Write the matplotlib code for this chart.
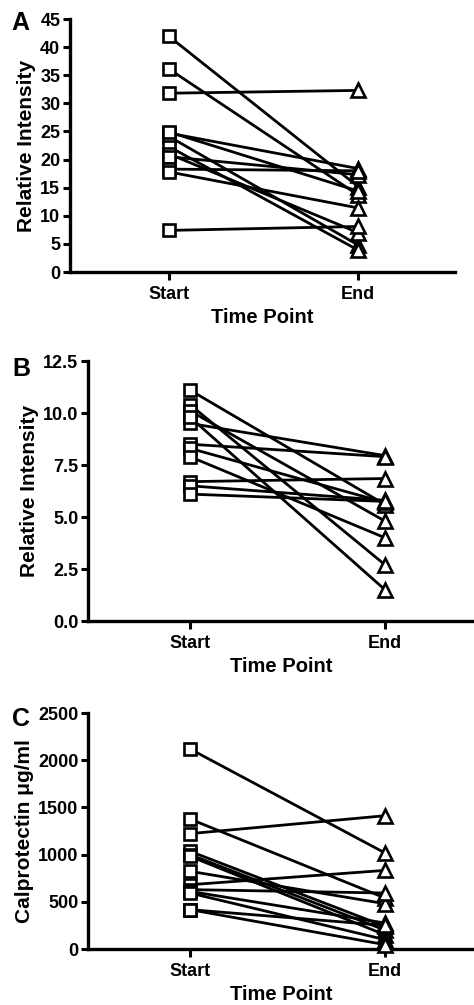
import matplotlib
matplotlib.use('Agg')
import matplotlib.pyplot as plt

plt.rcParams['font.family'] = ['Liberation Sans', 'DejaVu Sans']
plt.rcParams['font.weight'] = 'bold'

W, H = 474, 1005

# panel A
a_start = [41.9, 36.1, 31.8, 24.7, 24.1, 22.3, 21.0, 20.5, 18.3, 17.8, 24.9, 7.4]
a_end = [15.2, 13.7, 32.3, 18.4, 4.8, 3.9, 7.0, 17.3, 18.0, 11.4, 14.4, 8.1]
a_ticks = [0, 5, 10, 15, 20, 25, 30, 35, 40, 45]

# panel B
b_start = [11.1, 10.4, 10.1, 9.5, 8.5, 8.3, 7.9, 6.7, 6.5, 6.1, 9.8]
b_end = [5.6, 2.7, 4.8, 7.95, 7.9, 5.7, 4.0, 6.85, 5.8, 5.75, 1.5]
b_ticks = [0.0, 2.5, 5.0, 7.5, 10.0, 12.5]

# panel C
c_start = [2119, 1377, 1222, 1035, 1000, 982, 823, 681, 629, 610, 593, 417, 417]
c_end = [1017, 540, 1412, 240, 200, 150, 480, 833, 593, 275, 99, 250, 46]
c_ticks = [0, 500, 1000, 1500, 2000, 2500]

time_labels = ['Start', 'End']


def px_axes(fig, left, right, top, bottom):
    return fig.add_axes([left / W, 1 - bottom / H, (right - left) / W, (bottom - top) / H])


def panel(ax, start, end, ticks, fmt, ylabel, letter, xl, xr, letter_xy):
    for s, e in zip(start, end):
        ax.plot([0, 1], [s, e], color='black', lw=2.0, zorder=2)
    ax.plot([0] * len(start), start, 's', ms=9, mfc='white', mec='black', mew=1.9, ls='none', zorder=3, clip_on=False)
    ax.plot([1] * len(end), end, '^', ms=10.5, mfc='white', mec='black', mew=1.9, ls='none', zorder=3, clip_on=False)
    ax.set_xlim(xl, xr)
    ax.set_ylim(ticks[0], ticks[-1])
    ax.set_yticks(ticks)
    ax.set_yticklabels([fmt.format(t) for t in ticks], fontsize=13, fontweight='bold')
    ax.set_xticks([0, 1])
    ax.set_xticklabels(time_labels, fontsize=13, fontweight='bold')
    ax.spines['top'].set_visible(False)
    ax.spines['right'].set_visible(False)
    ax.spines['left'].set_linewidth(2.4)
    ax.spines['bottom'].set_linewidth(2.4)
    ax.tick_params(axis='y', length=5, width=2.2, pad=2)
    ax.tick_params(axis='x', length=6, width=2.2, pad=4)
    ax.set_xlabel('Time Point', fontsize=14.5, fontweight='bold', labelpad=4)
    ax.set_ylabel(ylabel, fontsize=15, fontweight='bold', labelpad=3)
    ax.text(letter_xy[0] / W, 1 - letter_xy[1] / H, letter, transform=ax.figure.transFigure,
            fontsize=18, fontweight='bold', ha='left', va='center')


fig = plt.figure(figsize=(W / 100, H / 100), dpi=100)

axA = px_axes(fig, 70, 455, 19, 272)
panel(axA, a_start, a_end, a_ticks, '{:.0f}', 'Relative Intensity', 'A', -0.524, 1.513, (11, 23))

axB = px_axes(fig, 88, 474, 361, 621)
panel(axB, b_start, b_end, b_ticks, '{:.1f}', 'Relative Intensity', 'B', -0.523, 1.456, (12, 369))

axC = px_axes(fig, 88, 474, 713, 949)
panel(axC, c_start, c_end, c_ticks, '{:.0f}', 'Calprotectin \u03bcg/ml', 'C', -0.523, 1.456, (12, 719))

fig.savefig('out.png', dpi=100)
